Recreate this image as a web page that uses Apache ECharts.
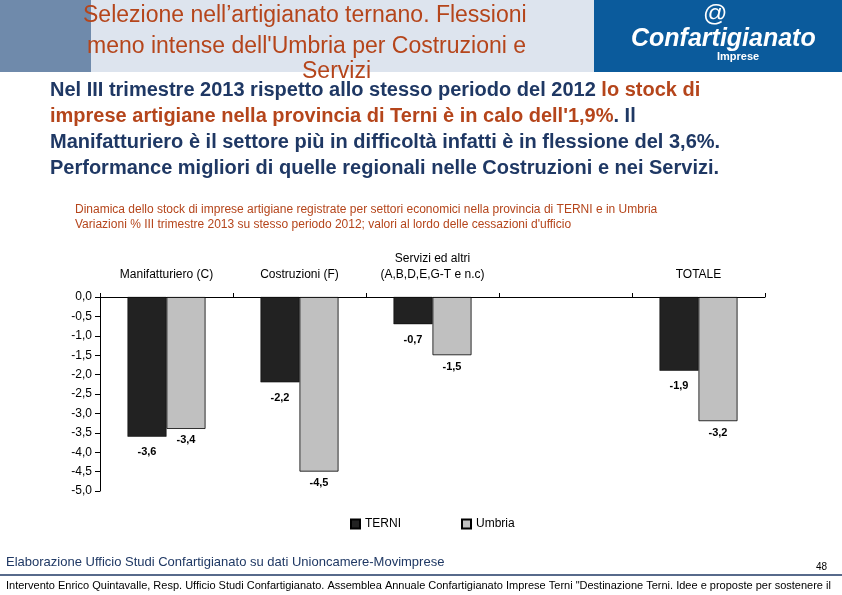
<!DOCTYPE html>
<html>
<head>
<meta charset="UTF-8">
<script src="https://cdn.jsdelivr.net/npm/echarts@6/dist/echarts.min.js"></script>
<style>body{margin:0}#c{width:842px;height:595px}</style>
</head>
<body>
<div id="c"></div>
<script>
var categories = ['Manifatturiero (C)', 'Costruzioni (F)', 'Servizi ed altri\n(A,B,D,E,G-T e n.c)', '', 'TOTALE'];
var terni = [-3.6, -2.2, -0.7, null, -1.9];
var umbria = [-3.4, -4.5, -1.5, null, -3.2];

var chart = echarts.init(document.getElementById('c'));
var F = 'Liberation Sans, Arial, sans-serif';
var navy = '#1f3864', red = '#b5451b';
var fmt = function(p){return p.value.toFixed(1).replace('.', ',');};
var option = {
  animation: false,
  backgroundColor: '#fff',
  grid: {left: 100, right: 77, top: 297, bottom: 104},
  legend: {
    bottom: 60, left: 345, itemGap: 60, itemWidth: 9, itemHeight: 9, icon: 'rect',
    textStyle: {fontFamily: F, fontSize: 12, color: '#000'},
    data: ['TERNI', 'Umbria']
  },
  xAxis: {
    type: 'category', position: 'top', data: categories,
    axisLine: {onZero: false, lineStyle: {color: '#000'}},
    axisTick: {show: true, length: 4, lineStyle: {color: '#000'}},
    axisLabel: {interval: 0, fontFamily: F, fontSize: 12, color: '#000', margin: 14, lineHeight: 16}
  },
  yAxis: {
    type: 'value', min: -5, max: 0, interval: 0.5,
    axisLine: {show: true, lineStyle: {color: '#000'}},
    axisTick: {show: true, lineStyle: {color: '#000'}},
    splitLine: {show: false},
    axisLabel: {fontFamily: F, fontSize: 12, color: '#000', formatter: function(v){return v.toFixed(1).replace('.', ',');}}
  },
  series: [
    {name: 'TERNI', type: 'bar', data: terni, barWidth: 39, barGap: '0%',
     itemStyle: {color: '#222', borderColor: '#000', borderWidth: 0.5},
     label: {show: true, position: 'bottom', distance: 10, fontFamily: F, fontWeight: 'bold', fontSize: 11, color: '#000', formatter: fmt}},
    {name: 'Umbria', type: 'bar', data: umbria, barWidth: 39,
     itemStyle: {color: '#c0c0c0', borderColor: '#000', borderWidth: 0.8},
     label: {show: true, position: 'bottom', distance: 6, fontFamily: F, fontWeight: 'bold', fontSize: 11, color: '#000', formatter: fmt}}
  ],
  graphic: [
    {type: 'rect', shape: {x: 0, y: 0, width: 91, height: 72}, style: {fill: '#6f8aab'}},
    {type: 'rect', shape: {x: 91, y: 0, width: 503, height: 72}, style: {fill: '#dde4ee'}},
    {type: 'rect', shape: {x: 594, y: 0, width: 248, height: 72}, style: {fill: '#0b5b9c'}},
    {type: 'text', left: 83, top: 4, style: {text: 'Selezione nell’artigianato ternano. Flessioni', font: '23px ' + F, fill: red}},
    {type: 'text', left: 87, top: 35, style: {text: 'meno intense dell\'Umbria per Costruzioni e', font: '23px ' + F, fill: red}},
    {type: 'text', left: 302, top: 60, style: {text: 'Servizi', font: '23px ' + F, fill: red}},
    {type: 'text', left: 703, top: 2, style: {text: '@', font: '24px ' + F, fill: '#fff'}},
    {type: 'text', left: 631, top: 27, style: {text: 'Confartigianato', font: 'italic bold 25px ' + F, fill: '#fff'}},
    {type: 'text', left: 717, top: 51, style: {text: 'Imprese', font: 'bold 11px ' + F, fill: '#fff'}},
    {type: 'text', left: 50, top: 80, style: {
      rich: {n: {font: 'bold 20px ' + F, fill: navy, lineHeight: 26}, r: {font: 'bold 20px ' + F, fill: red, lineHeight: 26}},
      text: '{n|Nel III trimestre 2013 rispetto allo stesso periodo del 2012 }{r|lo stock di}\n{r|imprese artigiane nella provincia di Terni è in calo dell\'1,9%}{n|. Il}\n{n|Manifatturiero è il settore più in difficoltà infatti è in flessione del 3,6%.}\n{n|Performance migliori di quelle regionali nelle Costruzioni e nei Servizi.}'}},
    {type: 'text', left: 75, top: 202, style: {text: 'Dinamica dello stock di imprese artigiane registrate per settori economici nella provincia di TERNI e in Umbria\nVariazioni % III trimestre 2013 su stesso periodo 2012; valori al lordo delle cessazioni d\'ufficio',
      font: '12px ' + F, fill: red, lineHeight: 15}},
    {type: 'text', left: 6, top: 556, style: {text: 'Elaborazione Ufficio Studi Confartigianato su dati Unioncamere-Movimprese', font: '13px ' + F, fill: navy}},
    {type: 'text', left: 816, top: 562, style: {text: '48', font: '10px ' + F, fill: '#000'}},
    {type: 'line', shape: {x1: 0, y1: 575, x2: 842, y2: 575}, style: {stroke: '#1f3864', lineWidth: 1.5}},
    {type: 'text', left: 6, top: 580, style: {text: 'Intervento Enrico Quintavalle, Resp. Ufficio Studi Confartigianato. Assemblea Annuale Confartigianato Imprese Terni "Destinazione Terni. Idee e proposte per sostenere il',
      font: '11px ' + F, fill: '#000'}}
  ]
};
chart.setOption(option);
</script>
</body>
</html>
